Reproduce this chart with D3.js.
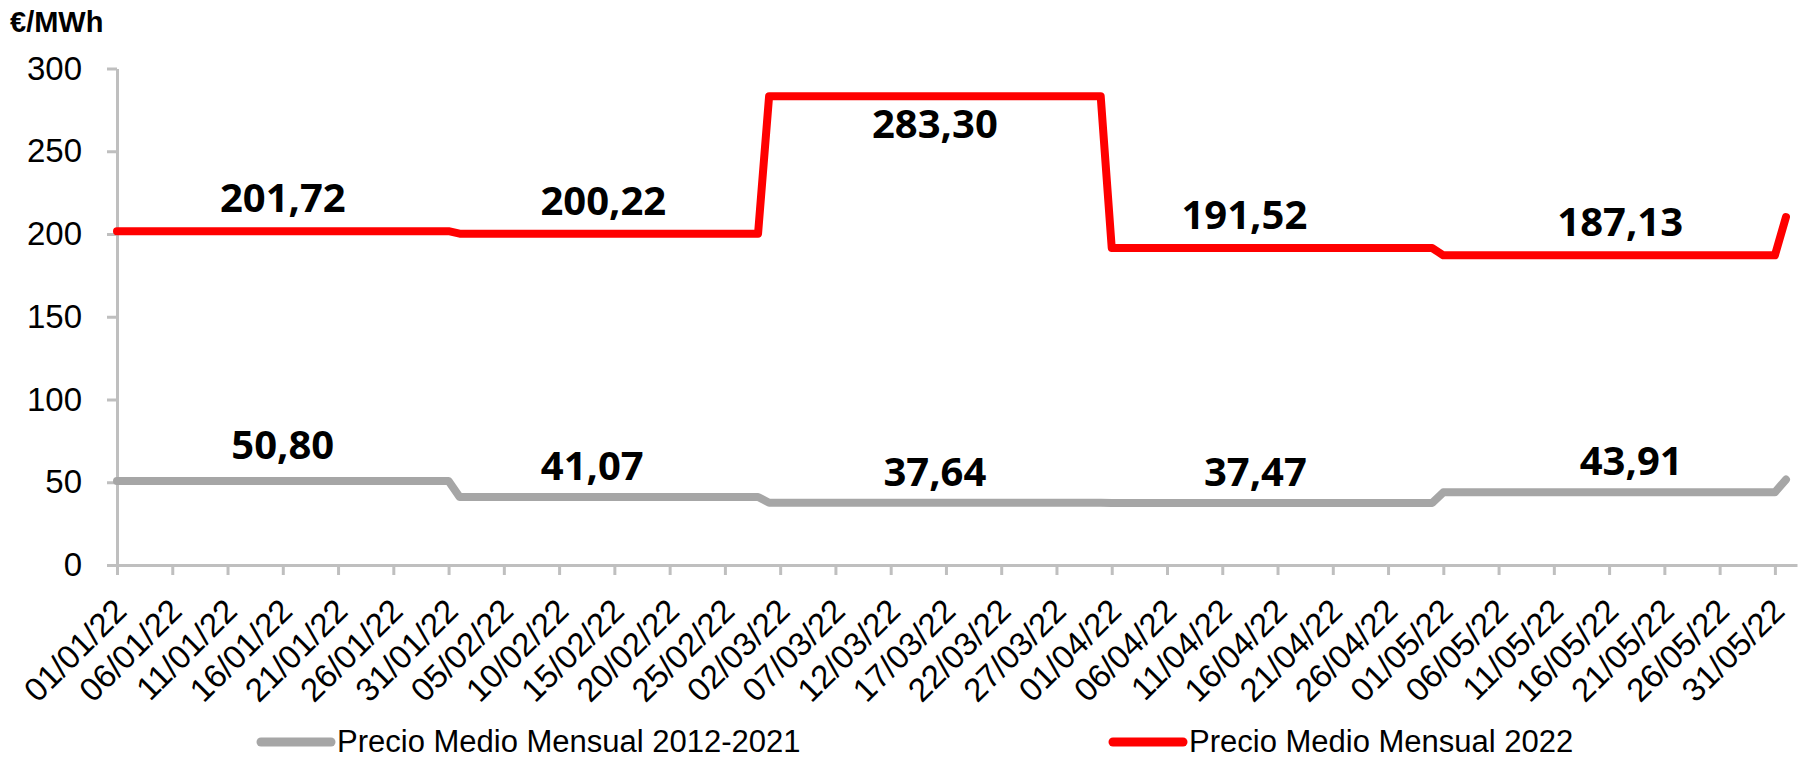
<!DOCTYPE html>
<html>
<head>
<meta charset="utf-8">
<script src="https://cdn.jsdelivr.net/npm/d3@7"></script>
<style>
  body { margin: 0; background: #fff; }
  svg { display: block; }
</style>
</head>
<body>
<svg id="chart" width="1802" height="761"></svg>
<script>
// monthly averages, €/MWh
var monthStarts = ["2022-01-01", "2022-02-01", "2022-03-01", "2022-04-01", "2022-05-01"];
var precio2022 = [201.72, 200.22, 283.30, 191.52, 187.13];
var precioHist = [50.80, 41.07, 37.64, 37.47, 43.91];
// first day of June, where both lines turn up at the right edge
var juneStart = "2022-06-01";
var june2022 = 210.2;
var juneHist = 51.6;
// day each data label sits on, and whether the red one goes above or below
var labelDays2022 = ["2022-01-16", "2022-02-14", "2022-03-16", "2022-04-13", "2022-05-17"];
var labelDaysHist = ["2022-01-16", "2022-02-13", "2022-03-16", "2022-04-14", "2022-05-18"];
var redLabelSide = ["above", "above", "below", "above", "above"];
var yTicks = [0, 50, 100, 150, 200, 250, 300];
var seriesNames = ["Precio Medio Mensual 2012-2021", "Precio Medio Mensual 2022"];

var parse = d3.utcParse("%Y-%m-%d");
var fmtTick = d3.utcFormat("%d/%m/%y");
var fmtVal = function(v) { return v.toFixed(2).replace(".", ","); };

var svg = d3.select("#chart");

var x = d3.scaleUtc()
  .domain([parse("2022-01-01"), parse("2022-06-02")])
  .range([117, 1797]);
var y = d3.scaleLinear().domain([0, 300]).range([565, 68.5]);

function steps(vals, last) {
  var pts = [];
  monthStarts.forEach(function(m, i) {
    var s = parse(m);
    var e = d3.utcDay.offset(d3.utcMonth.offset(s, 1), -1);
    pts.push([s, vals[i]]);
    pts.push([e, vals[i]]);
  });
  pts.push([parse(juneStart), last]);
  return pts;
}

var axisColor = "#bfbfbf";
var sans = "Liberation Sans, Arial, sans-serif";

// y axis
var yAxis = svg.append("g")
  .attr("transform", "translate(117,0)")
  .call(d3.axisLeft(y).tickValues(yTicks).tickSize(10).tickSizeOuter(0).tickPadding(25));
yAxis.selectAll("text")
  .style("font-family", sans)
  .style("font-size", "33px")
  .attr("fill", "#000");

// x axis
var xTickVals = d3.utcDay.range(parse("2022-01-01"), parse("2022-06-01"), 5);
var xAxis = svg.append("g")
  .attr("transform", "translate(0,565)")
  .call(d3.axisBottom(x).tickValues(xTickVals).tickFormat(fmtTick).tickSize(10).tickSizeOuter(0));
xAxis.selectAll("text")
  .style("font-family", sans)
  .style("font-size", "33px")
  .attr("fill", "#000")
  .attr("text-anchor", "end")
  .attr("dy", null)
  .attr("y", 0)
  .attr("transform", "translate(11,48) rotate(-45)");

svg.selectAll(".domain, .tick line")
  .attr("stroke", axisColor)
  .attr("stroke-width", 3);

// unit label
svg.append("text")
  .attr("x", 10)
  .attr("y", 32)
  .style("font-family", sans)
  .style("font-size", "29px")
  .style("font-weight", "bold")
  .text("€/MWh");

var line = d3.line()
  .x(function(d) { return x(d[0]); })
  .y(function(d) { return y(d[1]); });

svg.append("path")
  .datum(steps(precioHist, juneHist))
  .attr("d", line)
  .attr("fill", "none")
  .attr("stroke", "#a6a6a6")
  .attr("stroke-width", 8)
  .attr("stroke-linejoin", "round")
  .attr("stroke-linecap", "round");

svg.append("path")
  .datum(steps(precio2022, june2022))
  .attr("d", line)
  .attr("fill", "none")
  .attr("stroke", "#ff0000")
  .attr("stroke-width", 8)
  .attr("stroke-linejoin", "round")
  .attr("stroke-linecap", "round");

// data labels
var labelFont = "Open Sans, sans-serif";
function valueLabel(day, yPos, v) {
  svg.append("text")
    .attr("x", x(parse(day)))
    .attr("y", yPos)
    .attr("text-anchor", "middle")
    .style("font-family", labelFont)
    .style("font-size", "40px")
    .style("font-weight", "bold")
    .text(fmtVal(v));
}
precio2022.forEach(function(v, i) {
  var yy = redLabelSide[i] == "above" ? y(v) - 19 : y(v) + 42;
  valueLabel(labelDays2022[i], yy, v);
});
precioHist.forEach(function(v, i) {
  valueLabel(labelDaysHist[i], y(v) - (i == 0 ? 22 : 17), v);
});

// legend
var legend = svg.append("g");
var legendX = [261, 1113];
var legendCol = ["#a6a6a6", "#ff0000"];
seriesNames.forEach(function(name, i) {
  legend.append("line")
    .attr("x1", legendX[i]).attr("x2", legendX[i] + 70)
    .attr("y1", 742).attr("y2", 742)
    .attr("stroke", legendCol[i])
    .attr("stroke-width", 9)
    .attr("stroke-linecap", "round");
  legend.append("text")
    .attr("x", legendX[i] + 76)
    .attr("y", 752)
    .style("font-family", sans)
    .style("font-size", "31px")
    .text(name);
});
</script>
</body>
</html>
